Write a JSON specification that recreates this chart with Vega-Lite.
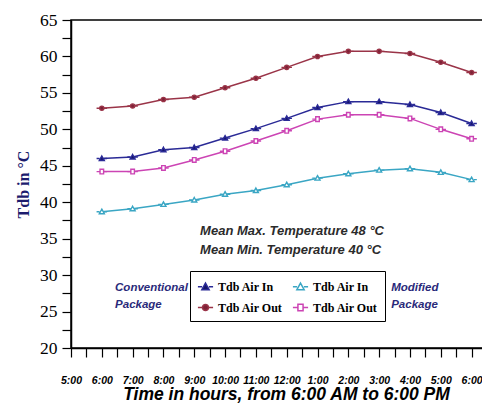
{
  "$schema": "https://vega.github.io/schema/vega-lite/v6.json",
  "width": 416,
  "height": 328,
  "autosize": "none",
  "padding": {"left": 71, "top": 20, "right": 0, "bottom": 57},
  "background": "white",
  "config": {
    "view": {"stroke": "black", "strokeWidth": 1.5},
    "axis": {"grid": false, "domainColor": "black", "tickColor": "black", "domainWidth": 1.5, "tickWidth": 1.2}
  },
  "datasets": {
    "temps": [
      {"hour": 6, "series": "2 Conv Out", "t": 52.9}, {"hour": 7, "series": "2 Conv Out", "t": 53.2}, {"hour": 8, "series": "2 Conv Out", "t": 54.1}, {"hour": 9, "series": "2 Conv Out", "t": 54.4}, {"hour": 10, "series": "2 Conv Out", "t": 55.7}, {"hour": 11, "series": "2 Conv Out", "t": 57.0}, {"hour": 12, "series": "2 Conv Out", "t": 58.5}, {"hour": 13, "series": "2 Conv Out", "t": 60.0}, {"hour": 14, "series": "2 Conv Out", "t": 60.7}, {"hour": 15, "series": "2 Conv Out", "t": 60.7}, {"hour": 16, "series": "2 Conv Out", "t": 60.4}, {"hour": 17, "series": "2 Conv Out", "t": 59.2}, {"hour": 18, "series": "2 Conv Out", "t": 57.8},
      {"hour": 6, "series": "1 Conv In", "t": 46.0}, {"hour": 7, "series": "1 Conv In", "t": 46.2}, {"hour": 8, "series": "1 Conv In", "t": 47.2}, {"hour": 9, "series": "1 Conv In", "t": 47.5}, {"hour": 10, "series": "1 Conv In", "t": 48.8}, {"hour": 11, "series": "1 Conv In", "t": 50.1}, {"hour": 12, "series": "1 Conv In", "t": 51.5}, {"hour": 13, "series": "1 Conv In", "t": 53.0}, {"hour": 14, "series": "1 Conv In", "t": 53.8}, {"hour": 15, "series": "1 Conv In", "t": 53.8}, {"hour": 16, "series": "1 Conv In", "t": 53.4}, {"hour": 17, "series": "1 Conv In", "t": 52.3}, {"hour": 18, "series": "1 Conv In", "t": 50.8},
      {"hour": 6, "series": "4 Mod Out", "t": 44.2}, {"hour": 7, "series": "4 Mod Out", "t": 44.2}, {"hour": 8, "series": "4 Mod Out", "t": 44.7}, {"hour": 9, "series": "4 Mod Out", "t": 45.8}, {"hour": 10, "series": "4 Mod Out", "t": 47.0}, {"hour": 11, "series": "4 Mod Out", "t": 48.4}, {"hour": 12, "series": "4 Mod Out", "t": 49.8}, {"hour": 13, "series": "4 Mod Out", "t": 51.4}, {"hour": 14, "series": "4 Mod Out", "t": 52.0}, {"hour": 15, "series": "4 Mod Out", "t": 52.0}, {"hour": 16, "series": "4 Mod Out", "t": 51.5}, {"hour": 17, "series": "4 Mod Out", "t": 50.0}, {"hour": 18, "series": "4 Mod Out", "t": 48.7},
      {"hour": 6, "series": "3 Mod In", "t": 38.7}, {"hour": 7, "series": "3 Mod In", "t": 39.1}, {"hour": 8, "series": "3 Mod In", "t": 39.7}, {"hour": 9, "series": "3 Mod In", "t": 40.3}, {"hour": 10, "series": "3 Mod In", "t": 41.1}, {"hour": 11, "series": "3 Mod In", "t": 41.6}, {"hour": 12, "series": "3 Mod In", "t": 42.4}, {"hour": 13, "series": "3 Mod In", "t": 43.3}, {"hour": 14, "series": "3 Mod In", "t": 43.9}, {"hour": 15, "series": "3 Mod In", "t": 44.4}, {"hour": 16, "series": "3 Mod In", "t": 44.6}, {"hour": 17, "series": "3 Mod In", "t": 44.1}, {"hour": 18, "series": "3 Mod In", "t": 43.1}
    ],
    "notes": [
      {"note": "Mean Max. Temperature 48 °C", "kind": "mean1"},
      {"note": "Mean Min. Temperature  40 °C", "kind": "mean2"},
      {"note": "Conventional", "kind": "conv1"},
      {"note": "Package", "kind": "conv2"},
      {"note": "Modified", "kind": "mod1"},
      {"note": "Package", "kind": "mod2"}
    ]
  },
  "encoding": {
    "x": {
      "field": "hour", "type": "quantitative",
      "scale": {"domain": [5, 18.5], "nice": false, "zero": false},
      "axis": {
        "values": [5, 5.5, 6, 6.5, 7, 7.5, 8, 8.5, 9, 9.5, 10, 10.5, 11, 11.5, 12, 12.5, 13, 13.5, 14, 14.5, 15, 15.5, 16, 16.5, 17, 17.5, 18],
        "labelExpr": "datum.value % 1 == 0 ? (datum.value > 12 ? datum.value - 12 : datum.value) + ':00' : ''",
        "labelFlush": false, "labelOverlap": false,
        "labelFont": "Liberation Sans", "labelFontStyle": "italic", "labelFontWeight": "bold", "labelFontSize": 10.5, "labelColor": "black",
        "tickSize": 9, "labelPadding": 18,
        "title": "Time in hours, from 6:00 AM to 6:00 PM",
        "titleFont": "Liberation Sans", "titleFontStyle": "italic", "titleFontWeight": "bold", "titleFontSize": 17.5, "titleColor": "black",
        "titlePadding": 0, "titleX": 215
      }
    },
    "y": {
      "field": "t", "type": "quantitative",
      "scale": {"domain": [20, 65], "nice": false, "zero": false},
      "axis": {
        "values": [20, 22.5, 25, 27.5, 30, 32.5, 35, 37.5, 40, 42.5, 45, 47.5, 50, 52.5, 55, 57.5, 60, 62.5, 65],
        "labelExpr": "datum.value % 5 == 0 ? datum.label : ''",
        "labelFont": "Liberation Serif", "labelFontSize": 17.5, "labelColor": "black",
        "tickSize": 9, "labelPadding": 5,
        "title": "Tdb in °C",
        "titleFont": "Liberation Serif", "titleFontWeight": "bold", "titleFontSize": 16, "titleColor": "#1c1c6e",
        "titlePadding": 8
      }
    }
  },
  "layer": [
    {
      "data": {"name": "temps"},
      "mark": {"type": "line", "strokeWidth": 1.5},
      "encoding": {
        "stroke": {"field": "series", "type": "nominal",
          "scale": {"domain": ["1 Conv In", "2 Conv Out", "3 Mod In", "4 Mod Out"], "range": ["#2a2a96", "#9a3448", "#3aa6c4", "#cc44b4"]}}
      }
    },
    {
      "data": {"name": "temps"},
      "mark": {"type": "point", "size": 110, "strokeWidth": 1.4, "opacity": 1},
      "encoding": {
        "stroke": {"field": "series", "type": "nominal",
          "scale": {"domain": ["1 Conv In", "2 Conv Out", "3 Mod In", "4 Mod Out"], "range": ["#2a2a96", "#9a3448", "#3aa6c4", "#cc44b4"]},
          "legend": {"orient": "none", "legendX": 119, "legendY": 251, "columns": 2, "title": null, "strokeColor": "black", "padding": 7, "rowPadding": 6, "columnPadding": 6,
            "labelFont": "Liberation Serif", "labelFontSize": 12, "labelFontWeight": "bold", "labelColor": "black", "symbolStrokeWidth": 1.5, "symbolSize": 230,
            "labelExpr": "indexof(datum.label, 'Out') >= 0 ? 'Tdb Air Out' : 'Tdb Air In'"}},
        "fill": {"field": "series", "type": "nominal",
          "scale": {"domain": ["1 Conv In", "2 Conv Out", "3 Mod In", "4 Mod Out"], "range": ["#16166a", "#7e2236", "#ffffff", "#ffffff"]}},
        "shape": {"field": "series", "type": "nominal",
          "scale": {"domain": ["1 Conv In", "2 Conv Out", "3 Mod In", "4 Mod Out"], "range": [
            "M-1,0H-0.45M0.45,0H1M0,-0.48L0.48,0.38L-0.48,0.38Z",
            "M-1,0H-0.4M0.4,0H1M0.4,0A0.4,0.4,0,1,1,-0.4,0A0.4,0.4,0,1,1,0.4,0Z",
            "M-1,0H-0.45M0.45,0H1M0,-0.48L0.48,0.38L-0.48,0.38Z",
            "M-1,0H-0.34M0.34,0H1M-0.34,-0.44H0.34V0.44H-0.34Z"]}}
      }
    },
    {
      "data": {"name": "notes"},
      "transform": [{"filter": "datum.kind == 'mean1'"}, {"calculate": "9.19", "as": "hour"}, {"calculate": "36.1", "as": "t"}],
      "mark": {"type": "text", "align": "left", "baseline": "middle", "font": "Liberation Sans", "fontStyle": "italic", "fontWeight": "bold", "fontSize": 13, "color": "#2b2b2b"},
      "encoding": {"text": {"field": "note"}}
    },
    {
      "data": {"name": "notes"},
      "transform": [{"filter": "datum.kind == 'mean2'"}, {"calculate": "9.19", "as": "hour"}, {"calculate": "33.5", "as": "t"}],
      "mark": {"type": "text", "align": "left", "baseline": "middle", "font": "Liberation Sans", "fontStyle": "italic", "fontWeight": "bold", "fontSize": 13, "color": "#2b2b2b"},
      "encoding": {"text": {"field": "note"}}
    },
    {
      "data": {"name": "notes"},
      "transform": [{"filter": "datum.kind == 'conv1'"}, {"calculate": "6.43", "as": "hour"}, {"calculate": "28.3", "as": "t"}],
      "mark": {"type": "text", "align": "left", "baseline": "middle", "font": "Liberation Sans", "fontStyle": "italic", "fontWeight": "bold", "fontSize": 11.5, "color": "#2a2a7a"},
      "encoding": {"text": {"field": "note"}}
    },
    {
      "data": {"name": "notes"},
      "transform": [{"filter": "datum.kind == 'conv2'"}, {"calculate": "6.43", "as": "hour"}, {"calculate": "25.85", "as": "t"}],
      "mark": {"type": "text", "align": "left", "baseline": "middle", "font": "Liberation Sans", "fontStyle": "italic", "fontWeight": "bold", "fontSize": 11.5, "color": "#2a2a7a"},
      "encoding": {"text": {"field": "note"}}
    },
    {
      "data": {"name": "notes"},
      "transform": [{"filter": "datum.kind == 'mod1'"}, {"calculate": "15.39", "as": "hour"}, {"calculate": "28.3", "as": "t"}],
      "mark": {"type": "text", "align": "left", "baseline": "middle", "font": "Liberation Sans", "fontStyle": "italic", "fontWeight": "bold", "fontSize": 11.5, "color": "#2a2a7a"},
      "encoding": {"text": {"field": "note"}}
    },
    {
      "data": {"name": "notes"},
      "transform": [{"filter": "datum.kind == 'mod2'"}, {"calculate": "15.39", "as": "hour"}, {"calculate": "25.85", "as": "t"}],
      "mark": {"type": "text", "align": "left", "baseline": "middle", "font": "Liberation Sans", "fontStyle": "italic", "fontWeight": "bold", "fontSize": 11.5, "color": "#2a2a7a"},
      "encoding": {"text": {"field": "note"}}
    }
  ]
}
